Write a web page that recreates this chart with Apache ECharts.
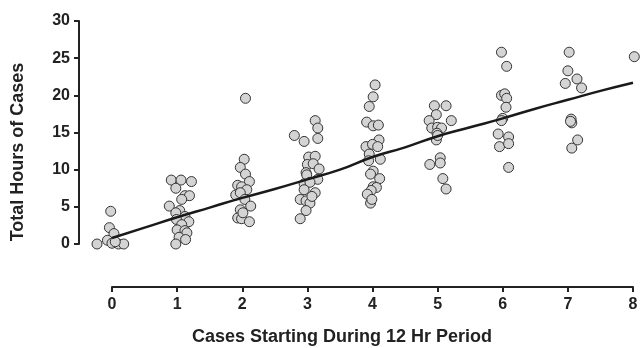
<!DOCTYPE html>
<html>
<head>
<meta charset="utf-8">
<script src="https://cdn.jsdelivr.net/npm/echarts@6/dist/echarts.min.js"></script>
<style>
  html, body { margin: 0; padding: 0; background: #fff; }
  #chart { width: 641px; height: 348px; }
</style>
</head>
<body>
<div id="chart"></div>
<script>
// jittered x positions and hours, one pair of arrays per case count
const c0X = [-0.23, -0.02, -0.04, 0.03, -0.07, 0.0, 0.1, 0.18, 0.05];
const c0Y = [0, 4.4, 2.2, 1.4, 0.5, 0.1, 0, 0, 0.3];
const c1X = [0.91, 1.06, 1.22, 0.98, 1.12, 1.19, 1.07, 0.88, 1.04, 0.98, 1.12, 0.99, 1.18, 1.07, 1.0, 1.12, 1.15, 1.03, 1.13, 0.98];
const c1Y = [8.6, 8.6, 8.4, 7.5, 6.5, 6.5, 6.0, 5.1, 4.5, 4.2, 3.7, 3.3, 3.0, 2.6, 1.9, 1.8, 1.5, 0.9, 0.6, 0];
const c2X = [2.05, 2.03, 1.97, 2.05, 2.11, 1.93, 1.99, 2.07, 1.9, 1.97, 2.04, 2.13, 1.97, 1.93, 1.99, 2.11, 2.01];
const c2Y = [19.6, 11.4, 10.3, 9.4, 8.4, 7.9, 7.7, 7.3, 6.6, 6.9, 6.0, 5.1, 4.6, 3.5, 3.4, 3.0, 4.2];
const c3X = [2.8, 2.95, 3.12, 3.16, 3.16, 3.02, 3.12, 3.0, 3.09, 3.18, 2.98, 2.99, 3.16, 2.95, 3.04, 2.95, 3.12, 2.89, 2.98, 3.04, 2.98, 2.89, 3.07];
const c3Y = [14.6, 13.8, 16.6, 15.6, 14.2, 11.7, 11.8, 10.7, 10.8, 10.1, 9.6, 9.3, 8.7, 8.1, 8.3, 7.3, 6.9, 6.0, 5.8, 5.5, 4.5, 3.4, 6.4];
const c4X = [4.04, 4.01, 3.95, 3.91, 4.01, 4.09, 4.1, 3.9, 4.0, 4.08, 3.95, 4.12, 3.94, 4.01, 3.97, 4.11, 4.01, 4.06, 3.98, 3.92, 3.97, 3.99];
const c4Y = [21.4, 19.8, 18.5, 16.4, 15.9, 16.0, 14.0, 13.1, 13.4, 13.1, 12.1, 11.4, 11.2, 9.8, 9.4, 8.8, 7.7, 7.6, 7.2, 6.7, 5.5, 6.0];
const c5X = [4.95, 5.13, 4.98, 4.87, 5.21, 4.91, 5.0, 5.06, 4.99, 4.98, 5.04, 5.04, 4.88, 5.08, 5.13, 5.0];
const c5Y = [18.6, 18.6, 17.4, 16.6, 16.6, 15.6, 15.7, 15.6, 14.9, 14.0, 11.6, 10.9, 10.7, 8.8, 7.4, 14.6];
const c6X = [5.98, 6.06, 5.98, 6.03, 6.06, 6.05, 6.0, 5.98, 5.93, 6.09, 5.95, 6.09, 6.09];
const c6Y = [25.8, 23.9, 20.0, 20.2, 19.6, 18.4, 16.9, 16.6, 14.8, 14.4, 13.1, 13.5, 10.3];
const c7X = [7.02, 7.0, 7.14, 6.96, 7.21, 7.05, 7.06, 7.04, 7.15, 7.06];
const c7Y = [25.8, 23.3, 22.2, 21.6, 21.0, 16.8, 16.3, 16.5, 14.0, 12.9];
const c8X = [8.02];
const c8Y = [25.2];

// smoothed fit line
const fitX = [0, 0.5, 1, 1.5, 2, 2.5, 3, 3.5, 4, 4.5, 5, 5.5, 6, 6.5, 7, 7.5, 8];
const fitY = [0.8, 2.2, 3.6, 4.9, 6.2, 7.4, 8.7, 10.0, 11.7, 13.0, 14.5, 15.7, 16.9, 18.2, 19.4, 20.6, 21.7];

const allX = [c0X, c1X, c2X, c3X, c4X, c5X, c6X, c7X, c8X];
const allY = [c0Y, c1Y, c2Y, c3Y, c4Y, c5Y, c6Y, c7Y, c8Y];
const points = [];
allX.forEach((xs, g) => xs.forEach((x, i) => points.push([x, allY[g][i]])));

const FONT = "'Liberation Sans', Arial, sans-serif";
const INK = '#222';

const chart = echarts.init(document.getElementById('chart'), null, { renderer: 'canvas' });
chart.setOption({
  animation: false,
  grid: { left: 112, right: 8, top: 21, bottom: 104 },
  xAxis: {
    type: 'value',
    position: 'bottom',
    min: 0,
    max: 8,
    interval: 1,
    offset: 43,
    axisLine: { show: true, onZero: false, lineStyle: { color: INK, width: 2 } },
    axisTick: { show: true, length: 5, lineStyle: { color: INK, width: 2 } },
    axisLabel: { margin: 10, color: INK, fontSize: 16, fontWeight: 'bold', fontFamily: FONT },
    splitLine: { show: false }
  },
  yAxis: {
    type: 'value',
    position: 'left',
    min: 0,
    max: 30,
    interval: 5,
    offset: 33,
    axisLine: { show: true, onZero: false, lineStyle: { color: INK, width: 2 } },
    axisTick: { show: true, length: 5, lineStyle: { color: INK, width: 2 } },
    axisLabel: { margin: 9, color: INK, fontSize: 16, fontWeight: 'bold', fontFamily: FONT },
    splitLine: { show: false }
  },
  graphic: [
    {
      type: 'text',
      x: 18, y: 152,
      rotation: Math.PI / 2,
      style: {
        text: 'Total Hours of Cases',
        font: 'bold 18px ' + FONT,
        fill: INK,
        align: 'center',
        verticalAlign: 'middle'
      }
    },
    {
      type: 'text',
      x: 342, y: 337,
      style: {
        text: 'Cases Starting During 12 Hr Period',
        font: 'bold 18px ' + FONT,
        fill: INK,
        align: 'center',
        verticalAlign: 'middle'
      }
    }
  ],
  series: [
    {
      type: 'scatter',
      data: points,
      clip: false,
      symbol: 'circle',
      symbolSize: 10,
      itemStyle: { color: '#d4d4d4', borderColor: '#333', borderWidth: 1, opacity: 1 },
      z: 2
    },
    {
      type: 'line',
      data: fitX.map((x, i) => [x, fitY[i]]),
      smooth: true,
      showSymbol: false,
      lineStyle: { color: '#1a1a1a', width: 2.5 },
      z: 3
    }
  ]
});
</script>
</body>
</html>
